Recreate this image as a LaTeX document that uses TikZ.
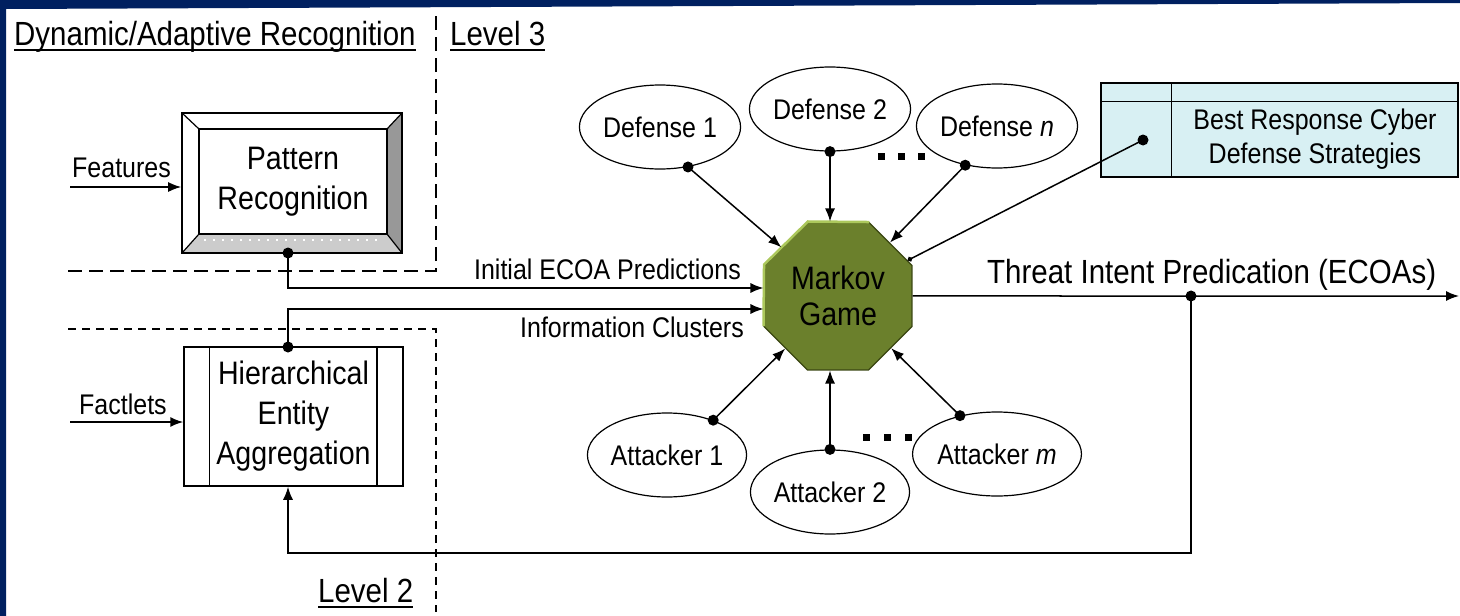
\documentclass[tikz,border=0pt]{standalone}
\usepackage{fontspec}
\setmainfont[FakeStretch=0.88]{Liberation Sans}
\usepackage{tikz}
\usetikzlibrary{positioning, arrows.meta, shapes, calc}
\definecolor{azulmarino}{RGB}{0, 32, 96}
\definecolor{oliva}{RGB}{107, 128, 44}
\definecolor{olivaclaro}{RGB}{172, 200, 92}
\definecolor{olivaoscuro}{RGB}{58, 70, 18}
\definecolor{aguaclara}{RGB}{216, 240, 243}
\definecolor{grisbisel}{RGB}{152, 152, 152}
\definecolor{grisclaro}{RGB}{204, 204, 204}
\newcommand{\titfont}{\fontsize{33.5}{38}\selectfont}
\newcommand{\cajfont}{\fontsize{32.5}{40}\selectfont}
\newcommand{\chifont}{\fontsize{28.4}{34}\selectfont}
\tikzset{
    titulo/.style={anchor=base west, inner sep=0pt, text depth=5pt, font=\titfont},
    etiq/.style={inner sep=0pt, font=\chifont},
    marco/.style={draw, rectangle, line width=1.6pt, minimum width=220pt, minimum height=140pt},
    caja/.style={draw, rectangle, fill=white, line width=1.5pt, align=center, inner sep=0pt, font=\cajfont},
    elip/.style={draw, ellipse, fill=white, line width=1.2pt, minimum width=155pt, minimum height=84pt, inner sep=0pt, font=\chifont},
    octa/.style={regular polygon, regular polygon sides=8, minimum size=160pt,
                 draw=olivaoscuro, fill=oliva, line width=1.2pt,
                 inner sep=0pt, align=center, font=\fontsize{32.5}{36}\selectfont},
    punto/.style={circle, fill=black, inner sep=0pt, minimum size=11pt},
    conn/.style={-, line width=1.5pt},
    flecha/.style={-{Latex[length=13pt, width=10pt]}, line width=1.5pt},
    corte3/.style={dash pattern=on 14pt off 7pt, line width=1.6pt},
    corte2/.style={dash pattern=on 8pt off 6pt, line width=1.6pt},
}

\begin{document}
\begin{tikzpicture}[x=1pt, y=-1pt]
    \useasboundingbox (0,0) rectangle (1460,616);
    \fill[azulmarino] (0,0) -- (1460,0) -- (1460,3) -- (6,9) -- (6,616) -- (0,616) -- cycle;

    \node[titulo] (dinam) at (14,45) {Dynamic/Adaptive Recognition};
    \node[titulo] (nivel3) at (450,45) {Level 3};
    \node[titulo] (nivel2) at (318,602) {Level 2};
    \draw[line width=1.6pt] (dinam.south west) -- (dinam.south east);
    \draw[line width=1.6pt] (nivel3.south west) -- (nivel3.south east);
    \draw[line width=1.6pt] (nivel2.south west) -- (nivel2.south east);

    \draw[corte3] (68,271) -- (436,271) -- (436,14);
    \draw[corte2] (68,329) -- (436,329) -- (436,612);

    % bevelled box
    \fill[grisbisel] (402,113) -- (402,253) -- (387,234) -- (387,129) -- cycle;
    \fill[grisclaro] (182,253) -- (402,253) -- (387,234) -- (199,234) -- cycle;
    \draw[line width=1.2pt] (182,113) -- (199,129) (402,113) -- (387,129) (182,253) -- (199,234) (402,253) -- (387,234);
    \draw[white, line width=1.6pt, dash pattern=on 1.5pt off 7.5pt] (204,240) -- (382,240);
    \node[marco] (patmarco) at (292,183) {};
    \node[caja, minimum width=188pt, minimum height=105pt] (patrec) at (293,181.5) {Pattern\\Recognition};

    \node[caja, minimum width=219pt, minimum height=139pt] (hier) at (293.5,416.5) {Hierarchical\\Entity\\Aggregation};
    \draw[conn] ($(hier.north west)+(26,0)$) -- ($(hier.south west)+(26,0)$);
    \draw[conn] ($(hier.north east)+(-27,0)$) -- ($(hier.south east)+(-27,0)$);

    \node[octa] (markov) at (838,296) {Markov\\Game};
    \draw[olivaclaro, line width=2.5pt] (markov.202.5) -- (markov.157.5) -- (markov.112.5) -- (markov.67.5);

    \node[elip] (def1) at (660,127) {Defense 1};
    \node[elip] (def2) at (830,109) {Defense 2};
    \node[elip] (defn) at (997,126) {Defense \textit{n}};
    \node[elip] (att1) at (667,455) {Attacker 1};
    \node[elip] (att2) at (830,492) {Attacker 2};
    \node[elip] (attm) at (997,454) {Attacker \textit{m}};
    \foreach \x in {878,898,918} \fill (\x,153) rectangle ++(7,7);
    \foreach \x in {863,884,905} \fill (\x,434) rectangle ++(7,7);

    \node[draw, fill=aguaclara, line width=1.3pt, minimum width=357pt, minimum height=94pt] (best) at (1279.5,130) {};
    \draw[line width=1.3pt] ($(best.north west)+(0,19)$) -- ($(best.north east)+(0,19)$);
    \draw[line width=1.3pt] ($(best.north west)+(71,0)$) -- ($(best.south west)+(71,0)$);
    \node[etiq, align=center] (bestxt) at (1315,139.5) {Best Response Cyber\\Defense Strategies};

    \node[etiq, anchor=base west] (rasgos) at (72,177) {Features};
    \node[etiq, anchor=base west] (hechos) at (79,414) {Factlets};
    \node[etiq, anchor=base east] (inicial) at (741,279) {Initial ECOA Predictions};
    \node[etiq, anchor=base east] (clusters) at (744,337) {Information Clusters};
    \node[titulo, text depth=0pt] (amenaza) at (987,283) {Threat Intent Predication (ECOAs)};

    \node[punto] (pp) at (288,253) {};
    \node[punto] (hp) at (288,347) {};
    \node[punto] (d1p) at (def1.305) {};
    \node[punto] (d2p) at (def2.south) {};
    \node[punto] (dnp) at (defn.231) {};
    \node[punto] (a1p) at (att1.37) {};
    \node[punto] (a2p) at (att2.north) {};
    \node[punto] (amp) at (attm.134) {};
    \node[punto] (bp) at (1143,140) {};
    \node[punto] (tp) at (markov.east -| 1191,0) {};
    \coordinate (entrada1) at (70,187);
    \coordinate (entrada2) at (70,422);
    \coordinate (salida) at (1459,296);

    \draw[flecha] (entrada1) -- (entrada1 -| patmarco.west);
    \draw[flecha] (entrada2) -- (entrada2 -| hier.west);
    \draw[flecha] (pp.center) |- ($(markov.west)+(0,-8)$);
    \draw[flecha] (hp.center) |- ($(markov.west)+(0,13)$);
    \draw[flecha] (d1p.center) -- (markov);
    \draw[flecha] (d2p.center) -- (d2p |- markov.north);
    \draw[flecha] (dnp.center) -- (markov);
    \draw[flecha] (a1p.center) -- (markov);
    \draw[flecha] (a2p.center) -- (a2p |- markov.south);
    \draw[flecha] (amp.center) -- (markov);
    \draw[conn, -{Circle[length=5pt]}] (bp.center) -- (markov);
    \draw[flecha] (markov.east) -- (salida);
    \draw[flecha] (tp.center) -- ++(0,257) -| (hp |- hier.south);
\end{tikzpicture}
\end{document}
